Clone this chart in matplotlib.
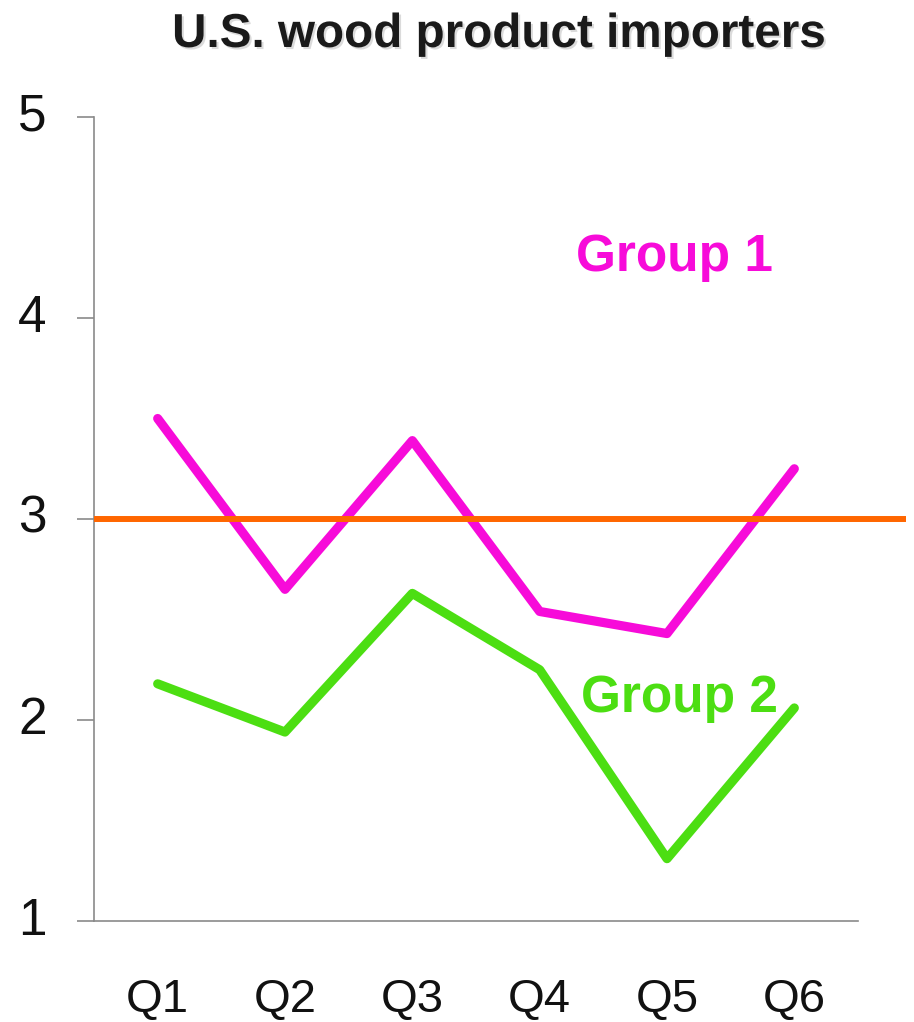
import matplotlib

matplotlib.use("Agg")
import matplotlib.pyplot as plt
import matplotlib.patheffects as pe

plt.rcParams["font.family"] = ["Liberation Sans", "DejaVu Sans"]

quarters = ["Q1", "Q2", "Q3", "Q4", "Q5", "Q6"]
group1 = [3.50, 2.65, 3.39, 2.54, 2.43, 3.25]
group2 = [2.18, 1.94, 2.63, 2.25, 1.31, 2.06]
reference_level = 3
y_ticks = [1, 2, 3, 4, 5]

MAGENTA = "#F70BD9"
GREEN = "#4CDE12"
ORANGE = "#FF6600"
AXIS_GREY = "#8a8a8a"

fig = plt.figure(figsize=(9.14, 10.22), dpi=100)
ax = fig.add_axes([94 / 914, 1 - 921 / 1022, 764 / 914, 804 / 1022])

x = range(len(quarters))
line_kw = dict(linewidth=6.6, solid_capstyle="round", solid_joinstyle="round")
ax.plot(x, group1, color=MAGENTA, **line_kw)
ax.plot(x, group2, color=GREEN, **line_kw)

# the reference line runs past the plot area to the right edge
ax.axhline(reference_level, xmin=0, xmax=(906 - 94) / 764, color=ORANGE,
           linewidth=4.3, clip_on=False, solid_capstyle="butt", zorder=3)

ax.set_xlim(-0.5, len(quarters) - 0.5)
ax.set_ylim(min(y_ticks), max(y_ticks))
ax.set_xticks(list(x))
ax.set_xticklabels(quarters)
ax.set_yticks(y_ticks)

for side in ("top", "right"):
    ax.spines[side].set_visible(False)
for side in ("left", "bottom"):
    ax.spines[side].set_color(AXIS_GREY)
    ax.spines[side].set_linewidth(1.2)

ax.tick_params(axis="y", direction="out", length=12, width=1.2,
               color=AXIS_GREY, labelsize=37, pad=22, labelcolor="#111111")
ax.tick_params(axis="x", length=0, labelsize=34, pad=41, labelcolor="#111111")
for label in ax.get_yticklabels():
    label.set_verticalalignment("center")

ax.text(4.06, 4.30, "Group 1", color=MAGENTA, fontsize=37, fontweight="bold",
        ha="center", va="center")
ax.text(4.1, 2.105, "Group 2", color=GREEN, fontsize=37, fontweight="bold",
        ha="center", va="center")

fig.text(499 / 914, 1 - 47 / 1022, "U.S. wood product importers",
         fontsize=34.3, fontweight="bold", color="#1a1a1a",
         ha="center", va="baseline",
         path_effects=[pe.withSimplePatchShadow(offset=(1.5, -1.5),
                                                shadow_rgbFace="#999999",
                                                alpha=0.35)])

fig.savefig("out.png", dpi=100, facecolor="white")
